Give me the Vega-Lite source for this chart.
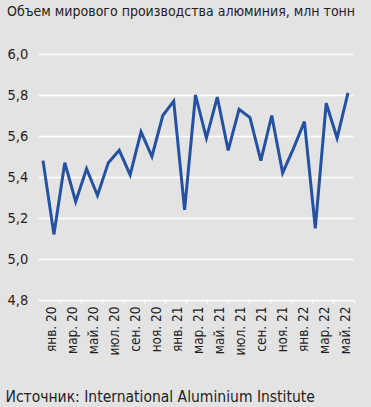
{
  "$schema": "https://vega.github.io/schema/vega-lite/v6.json",
  "width": 315,
  "height": 246,
  "autosize": "none",
  "padding": {"left": 38, "top": 54, "right": 18, "bottom": 107},
  "background": "#e3e3e3",
  "title": {
    "text": "Объем мирового производства алюминия, млн тонн",
    "anchor": "start",
    "frame": "group",
    "dx": -31,
    "offset": 27,
    "font": "DejaVu Sans Condensed, Liberation Sans Narrow, sans-serif",
    "fontSize": 14,
    "fontWeight": "normal",
    "color": "#1e1e1e"
  },
  "data": {
    "values": [
      {"mon": "янв. 20", "v": 5.48},
      {"mon": "фев. 20", "v": 5.12},
      {"mon": "мар. 20", "v": 5.47},
      {"mon": "апр. 20", "v": 5.28},
      {"mon": "май. 20", "v": 5.44},
      {"mon": "июн. 20", "v": 5.31},
      {"mon": "июл. 20", "v": 5.47},
      {"mon": "авг. 20", "v": 5.53},
      {"mon": "сен. 20", "v": 5.41},
      {"mon": "окт. 20", "v": 5.62},
      {"mon": "ноя. 20", "v": 5.50},
      {"mon": "дек. 20", "v": 5.70},
      {"mon": "янв. 21", "v": 5.77},
      {"mon": "фев. 21", "v": 5.24},
      {"mon": "мар. 21", "v": 5.80},
      {"mon": "апр. 21", "v": 5.59},
      {"mon": "май. 21", "v": 5.79},
      {"mon": "июн. 21", "v": 5.53},
      {"mon": "июл. 21", "v": 5.73},
      {"mon": "авг. 21", "v": 5.69},
      {"mon": "сен. 21", "v": 5.48},
      {"mon": "окт. 21", "v": 5.70},
      {"mon": "ноя. 21", "v": 5.42},
      {"mon": "дек. 21", "v": 5.54},
      {"mon": "янв. 22", "v": 5.67},
      {"mon": "фев. 22", "v": 5.15},
      {"mon": "мар. 22", "v": 5.76},
      {"mon": "апр. 22", "v": 5.59},
      {"mon": "май. 22", "v": 5.81}
    ]
  },
  "encoding": {
    "y": {
      "field": "v",
      "type": "quantitative",
      "scale": {"domain": [4.8, 6.0], "nice": false, "zero": false},
      "axis": {
        "values": [4.8, 5.0, 5.2, 5.4, 5.6, 5.8, 6.0],
        "labelExpr": "replace(format(datum.value, '.1f'), '.', ',')",
        "labelAlign": "left",
        "labelPadding": 31,
        "labelFont": "DejaVu Sans Condensed, Liberation Sans Narrow, sans-serif",
        "labelFontSize": 14.5,
        "labelColor": "#1e1e1e",
        "ticks": false,
        "domain": false,
        "grid": true,
        "gridColor": "#ffffff",
        "gridWidth": 1.5,
        "gridOpacity": 1,
        "title": null
      }
    }
  },
  "layer": [
    {
      "mark": {"type": "line", "color": "#2451a0", "strokeWidth": 3, "strokeJoin": "miter"},
      "encoding": {
        "x": {
          "field": "mon",
          "type": "ordinal",
          "sort": null,
          "scale": {"type": "point", "padding": 0.46},
          "axis": null
        }
      }
    },
    {
      "mark": {"type": "line", "opacity": 0},
      "encoding": {
        "x": {
          "field": "mon",
          "type": "ordinal",
          "sort": null,
          "scale": {"type": "point", "padding": 1.05, "align": 0.64},
          "axis": {
            "orient": "bottom",
            "values": ["янв. 20", "мар. 20", "май. 20", "июл. 20", "сен. 20", "ноя. 20", "янв. 21", "мар. 21", "май. 21", "июл. 21", "сен. 21", "ноя. 21", "янв. 22", "мар. 22", "май. 22"],
            "labelAngle": -90,
            "labelAlign": "right",
            "labelBaseline": "middle",
            "labelFont": "DejaVu Sans Condensed, Liberation Sans Narrow, sans-serif",
            "labelFontSize": 13.5,
            "labelColor": "#1e1e1e",
            "labelPadding": 3,
            "tickOffset": 9,
            "labelOffset": -9,
            "tickColor": "#ffffff",
            "tickSize": 3,
            "tickWidth": 1.5,
            "domain": false,
            "grid": false,
            "title": "Источник: International Aluminium Institute",
            "titleFont": "DejaVu Sans Condensed, Liberation Sans Narrow, sans-serif",
            "titleFontSize": 15.5,
            "titleFontWeight": "normal",
            "titleColor": "#1e1e1e",
            "titleAnchor": "start",
            "titleAlign": "left",
            "titleBaseline": "middle",
            "titleX": -33,
            "titleY": 96
          }
        }
      }
    }
  ],
  "resolve": {"scale": {"x": "independent"}, "axis": {"x": "independent"}},
  "config": {"view": {"stroke": null}}
}
